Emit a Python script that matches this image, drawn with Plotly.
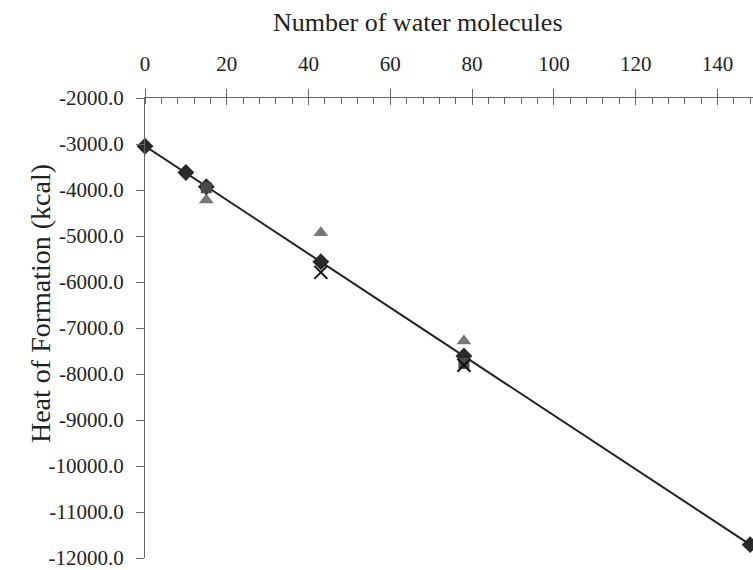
import numpy as np
import plotly.graph_objects as go

# Heat of formation of water clusters, by method
diamond_n = [0, 10, 15, 43, 78, 148]
diamond_hf = [-3050, -3620, -3930, -5560, -7610, -11710]

square_n = [15, 78]
square_hf = [-3950, -7770]

triangle_n = [15, 43, 78]
triangle_hf = [-4220, -4930, -7280]

cross_n = [43, 78]
cross_hf = [-5790, -7810]

y_ticks = [-2000, -3000, -4000, -5000, -6000, -7000, -8000, -9000, -10000, -11000, -12000]
y_tick_text = ["-2000.0", "-3000.0", "-4000.0", "-5000.0", "-6000.0", "-7000.0",
               "-8000.0", "-9000.0", "-10000.0", "-11000.0", "-12000.0"]

# linear trend through the diamond series
slope, intercept = np.polyfit(diamond_n, diamond_hf, 1)
fit_x = [min(diamond_n), max(diamond_n)]
fit_y = [slope * v + intercept for v in fit_x]

FONT = "Liberation Serif"
INK = "#222222"
AXIS = "#666666"

fig = go.Figure()

fig.add_trace(go.Scatter(x=fit_x, y=fit_y, mode="lines",
                         line=dict(color="#222222", width=2),
                         hoverinfo="skip", cliponaxis=False))
fig.add_trace(go.Scatter(x=triangle_n, y=triangle_hf, mode="markers",
                         marker=dict(symbol="triangle-up", size=13, color="#777777"),
                         cliponaxis=False))
fig.add_trace(go.Scatter(x=diamond_n, y=diamond_hf, mode="markers",
                         marker=dict(symbol="diamond", size=13, color="#2a2a2a"),
                         cliponaxis=False))
fig.add_trace(go.Scatter(x=square_n, y=square_hf, mode="markers",
                         marker=dict(symbol="square", size=11, color="#4a4a4a"),
                         cliponaxis=False))
fig.add_trace(go.Scatter(x=cross_n, y=cross_hf, mode="markers",
                         marker=dict(symbol="x-thin", size=13,
                                     line=dict(color="#111111", width=2)),
                         cliponaxis=False))

x_range = [0, 148.7]

fig.update_layout(
    width=753, height=570,
    margin=dict(l=145, r=0, t=98, b=9),
    paper_bgcolor="white", plot_bgcolor="white",
    showlegend=False,
    font=dict(family=FONT, color=INK, size=21),
    xaxis=dict(
        side="top", range=x_range, showgrid=False, zeroline=False,
        showline=True, linecolor=AXIS, linewidth=1,
        tickmode="linear", tick0=0, dtick=20,
        ticks="outside", ticklen=8, tickcolor=AXIS, tickwidth=1,
        ticklabelstandoff=10,
        tickfont=dict(family=FONT, size=21, color=INK),
        minor=dict(ticks="inside", dtick=4, tick0=0, ticklen=6,
                   tickcolor=AXIS, tickwidth=1),
    ),
    xaxis2=dict(
        overlaying="x", side="top", range=x_range, showgrid=False,
        zeroline=False, showline=False, showticklabels=False,
        tickmode="linear", tick0=0, dtick=20,
        ticks="inside", ticklen=7, tickcolor=AXIS, tickwidth=1,
    ),
    yaxis=dict(
        range=[-12000, -2000], showgrid=False, zeroline=False,
        showline=True, linecolor=AXIS, linewidth=1,
        tickvals=y_ticks, ticktext=y_tick_text,
        ticks="outside", ticklen=8, tickcolor=AXIS, tickwidth=1,
        ticklabelstandoff=8, ticklabeloverflow="allow",
        tickfont=dict(family=FONT, size=21, color=INK),
    ),
    annotations=[
        dict(text="Number of water molecules", xref="paper", yref="paper",
             x=0.449, y=1.164, xanchor="center", yanchor="middle",
             showarrow=False, font=dict(family=FONT, size=26, color=INK)),
        dict(text="Heat of Formation (kcal)", xref="paper", yref="paper",
             x=-0.172, y=0.553, xanchor="center", yanchor="middle",
             textangle=-90, showarrow=False,
             font=dict(family=FONT, size=28, color=INK)),
    ],
)

# invisible trace that anchors the secondary top axis for the crossing ticks
fig.add_trace(go.Scatter(x=[None], y=[None], xaxis="x2", showlegend=False,
                         hoverinfo="skip"))

fig.write_html("out.html")
